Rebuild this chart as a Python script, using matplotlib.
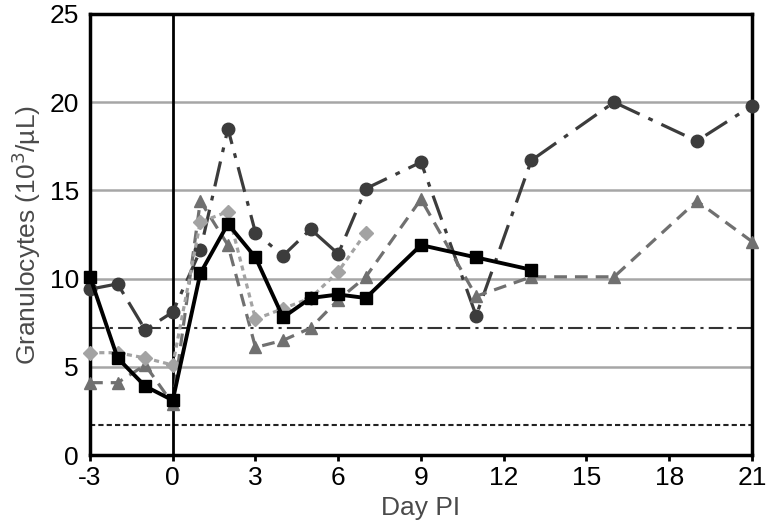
import matplotlib
matplotlib.use('Agg')
import matplotlib.pyplot as plt
from matplotlib import font_manager

# Data
circle_days = [-3, -2, -1, 0, 1, 2, 3, 4, 5, 6, 7, 9, 11, 13, 16, 19, 21]
circle_vals = [9.4, 9.7, 7.1, 8.1, 11.6, 18.5, 12.6, 11.3, 12.8, 11.4, 15.1, 16.6, 7.9, 16.7, 20.0, 17.8, 19.8]

square_days = [-3, -2, -1, 0, 1, 2, 3, 4, 5, 6, 7, 9, 11, 13]
square_vals = [10.1, 5.5, 3.9, 3.1, 10.3, 13.1, 11.2, 7.8, 8.9, 9.1, 8.9, 11.9, 11.2, 10.5]

diamond_days = [-3, -2, -1, 0, 1, 2, 3, 4, 5, 6, 7]
diamond_vals = [5.8, 5.8, 5.5, 5.1, 13.2, 13.8, 7.7, 8.3, 8.9, 10.4, 12.6]

triangle_days = [-3, -2, -1, 0, 1, 2, 3, 4, 5, 6, 7, 9, 11, 13, 16, 19, 21]
triangle_vals = [4.1, 4.1, 5.1, 2.9, 14.4, 11.9, 6.1, 6.5, 7.2, 8.8, 10.1, 14.5, 9.0, 10.1, 10.1, 14.4, 12.1]

upper_ref = 7.2
lower_ref = 1.7

xticks = [-3, 0, 3, 6, 9, 12, 15, 18, 21]
yticks = [0, 5, 10, 15, 20, 25]

# Narrow font for tick labels if available
names = [f.name for f in font_manager.fontManager.ttflist]
tick_font = 'Liberation Sans Narrow' if 'Liberation Sans Narrow' in names else 'Liberation Sans'

fig = plt.figure(figsize=(7.66, 5.30), dpi=100)
ax = fig.add_axes([0.1175, 0.1415, 0.8642, 0.8321])

# Gridlines and reference lines
for y in [5, 10, 15, 20]:
    ax.axhline(y, color='#a6a6a6', lw=1.8, zorder=1)
ax.axhline(upper_ref, color='#333333', lw=1.5, dashes=(7, 2.5, 1.5, 2.5), zorder=1)
ax.axhline(lower_ref, color='#222222', lw=1.5, dashes=(2.5, 1.5), zorder=1)
ax.axvline(0, color='black', lw=2, zorder=2)

# Series
ax.plot(circle_days, circle_vals, color='#3c3c3c', lw=2.3, dashes=(8, 3, 1.5, 3),
        marker='o', markersize=9, clip_on=False, zorder=3)
ax.plot(triangle_days, triangle_vals, color='#707070', lw=2.3, dashes=(4, 2.5),
        marker='^', markersize=9, clip_on=False, zorder=4)
ax.plot(diamond_days, diamond_vals, color='#a3a3a3', lw=2.3, dashes=(1.6, 1.3),
        marker='D', markersize=7, clip_on=False, zorder=5)
ax.plot(square_days, square_vals, color='black', lw=2.8,
        marker='s', markersize=8, clip_on=False, zorder=6)

ax.set_xlim(-3, 21)
ax.set_ylim(0, 25)
ax.set_xticks(xticks)
ax.set_yticks(yticks)
ax.set_xticklabels([str(t) for t in xticks], fontfamily=tick_font, fontsize=19)
ax.set_yticklabels([str(t) for t in yticks], fontfamily=tick_font, fontsize=19)
ax.tick_params(axis='x', direction='out', length=4, width=2, pad=4)
ax.tick_params(axis='y', length=0, pad=8)

for s in ax.spines.values():
    s.set_linewidth(2.5)
    s.set_color('black')

ax.set_xlabel('Day PI', fontfamily='Liberation Sans', fontsize=19, color='#4a4a4a', labelpad=4)
ax.set_ylabel('Granulocytes (10$^3$/µL)', fontfamily='Liberation Sans', fontsize=19,
              color='#4a4a4a', labelpad=5)

plt.savefig('out.png', dpi=100)
